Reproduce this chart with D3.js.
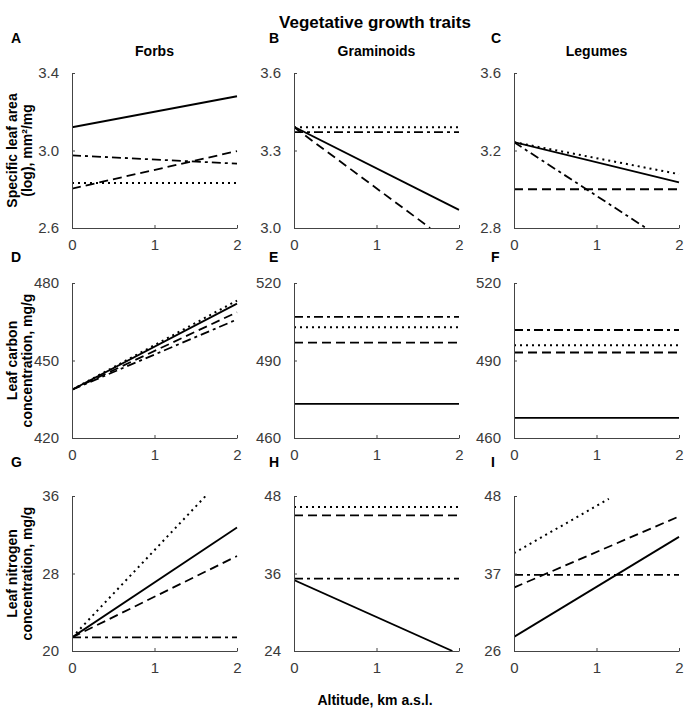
<!DOCTYPE html>
<html><head><meta charset="utf-8">
<script src="https://cdn.jsdelivr.net/npm/d3@7"></script>
<style>
html,body{margin:0;padding:0;background:#fff;}
text{font-family:"Liberation Sans",Arial,sans-serif;}
</style></head>
<body><svg id="chart" width="689" height="717"></svg>
<script>
// ---- data ----
const chartTitle = "Vegetative growth traits";
const xTitle = "Altitude, km a.s.l.";
const groups = ["Forbs", "Graminoids", "Legumes"];
const traitLabels = [["Specific leaf area", "(log), mm²/mg"], ["Leaf carbon", "concentration, mg/g"], ["Leaf nitrogen", "concentration, mg/g"]];
const letters = ["A", "B", "C", "D", "E", "F", "G", "H", "I"];
const xTicks = [0, 1, 2];
const yTicks = [[2.6, 3.0, 3.4], [3.0, 3.3, 3.6], [2.8, 3.2, 3.6],
                [420, 450, 480], [460, 490, 520], [460, 490, 520],
                [20, 28, 36], [24, 36, 48], [26, 37, 48]];
const yDecimals = [1, 1, 1, 0, 0, 0, 0, 0, 0];
// each line: [x start, y start, x end, y end] (altitude km, trait value)
const solidLines = [[0, 3.12, 2, 3.28], [0, 3.392, 2, 3.07], [0, 3.243, 2, 3.035],
                    [0, 438.7, 2, 472.0], [0, 473.2, 2, 473.2], [0, 467.8, 2, 467.8],
                    [0, 21.4, 2, 32.75], [0, 35.0, 1.92, 24], [0, 28.0, 2, 42.2]];
const dashedLines = [[0, 2.803, 2, 2.997], [0, 3.39, 1.65, 3.0], [0, 3.0, 2, 3.0],
                     [0, 438.7, 2, 468.7], [0, 496.9, 2, 496.9], [0, 493.1, 2, 493.1],
                     [0, 21.4, 2, 29.8], [0, 45.0, 2, 45.0], [0, 35.0, 2, 45.1]];
const dottedLines = [[0, 2.832, 2, 2.832], [0, 3.39, 2, 3.39], [0, 3.243, 2, 3.078],
                     [0, 438.7, 2, 473.2], [0, 502.9, 2, 502.9], [0, 495.9, 2, 495.9],
                     [0, 21.4, 1.62, 36], [0, 46.3, 2, 46.3], [0, 39.9, 1.15, 47.6]];
const dashDotLines = [[0, 2.975, 2, 2.932], [0, 3.371, 2, 3.371], [0, 3.243, 1.6, 2.8],
                      [0, 438.7, 2, 465.9], [0, 506.9, 2, 506.9], [0, 501.8, 2, 501.8],
                      [0, 21.4, 2, 21.4], [0, 35.2, 2, 35.2], [0, 36.8, 2, 36.8]];

// ---- layout ----
const colX = [72, 294, 514];
const rowY = [73, 283, 496];
const pw = 165, ph = 155;
const lineSets = [
  {data: solidLines, dash: null, width: 1.8},
  {data: dashedLines, dash: "9,5", width: 1.8},
  {data: dottedLines, dash: "2,4", width: 2},
  {data: dashDotLines, dash: "9,4,3,4", width: 1.8}
];

const svg = d3.select("#chart");

svg.append("text").attr("x", 375).attr("y", 28).attr("text-anchor", "middle")
  .attr("font-size", 17).attr("font-weight", "bold").attr("fill", "#000").text(chartTitle);

groups.forEach((g, c) => {
  svg.append("text").attr("x", colX[c] + pw / 2).attr("y", 56).attr("text-anchor", "middle")
    .attr("font-size", 14).attr("font-weight", "bold").attr("fill", "#000").text(g);
});

traitLabels.forEach((lines, r) => {
  const cy = rowY[r] + ph / 2;
  lines.forEach((t, i) => {
    svg.append("text").attr("transform", `translate(${17 + i * 15},${cy}) rotate(-90)`)
      .attr("text-anchor", "middle").attr("font-size", 14).attr("font-weight", "bold")
      .attr("fill", "#000").text(t);
  });
});

svg.append("text").attr("x", 375).attr("y", 705).attr("text-anchor", "middle")
  .attr("font-size", 14).attr("font-weight", "bold").attr("fill", "#000").text(xTitle);

for (let p = 0; p < 9; p++) {
  const r = Math.floor(p / 3), c = p % 3;
  const ox = colX[c], oy = rowY[r];
  const x = d3.scaleLinear().domain([0, 2]).range([0, pw]);
  const yt = yTicks[p];
  const y = d3.scaleLinear().domain([yt[0], yt[yt.length - 1]]).range([ph, 0]);
  const gp = svg.append("g").attr("transform", `translate(${ox},${oy})`);

  // letter
  svg.append("text").attr("x", ox - (c === 0 ? 61 : (c === 1 ? 25 : 23))).attr("y", oy - (r === 0 ? 30 : (r === 1 ? 21 : 29)))
    .attr("font-size", 14).attr("font-weight", "bold").attr("fill", "#000").text(letters[p]);

  const clipId = "clip" + p;
  gp.append("clipPath").attr("id", clipId).append("rect")
    .attr("x", 0).attr("y", 0).attr("width", pw + 1).attr("height", ph);

  const line = d3.line().x(d => x(d[0])).y(d => y(d[1]));
  lineSets.forEach(s => {
    const v = s.data[p];
    const pth = gp.append("path").attr("clip-path", `url(#${clipId})`)
      .attr("d", line([[v[0], v[1]], [v[2], v[3]]]))
      .attr("fill", "none").attr("stroke", "#000").attr("stroke-width", s.width);
    if (s.dash) pth.attr("stroke-dasharray", s.dash);
  });

  const fmt = d3.format("." + yDecimals[p] + "f");
  const ya = gp.append("g").call(d3.axisLeft(y).tickValues(yt).tickFormat(fmt)
    .tickSizeInner(-3).tickSizeOuter(0).tickPadding(13));
  const xa = gp.append("g").attr("transform", `translate(0,${ph})`)
    .call(d3.axisBottom(x).tickValues(xTicks).tickFormat(d3.format("d"))
      .tickSizeInner(-3).tickSizeOuter(0).tickPadding(11));
  [ya, xa].forEach(a => {
    a.selectAll("path,line").attr("stroke", "#444").attr("stroke-width", 1);
    a.selectAll("text").attr("font-size", 15).attr("fill", "#3a3a3a")
      .attr("font-family", "'Liberation Sans',Arial,sans-serif");
  });
}
</script></body></html>
